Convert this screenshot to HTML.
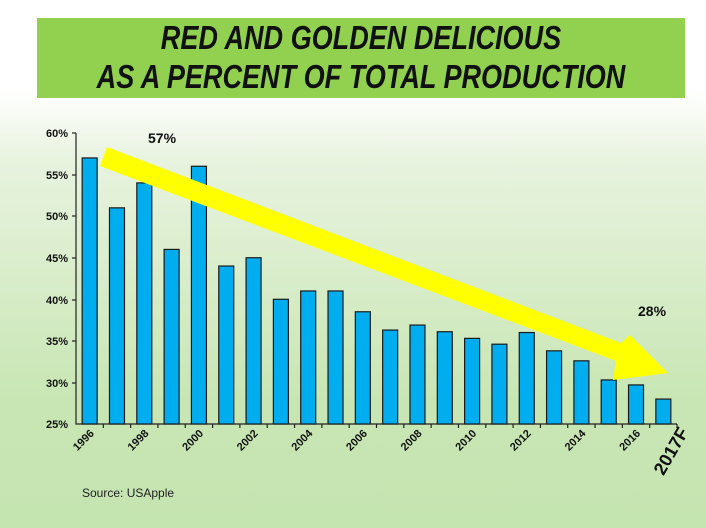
<!DOCTYPE html>
<html><head><style>
body{margin:0;width:706px;height:528px;overflow:hidden;background:linear-gradient(#ffffff 0px,#ffffff 90px,#e8f3df 160px,#c8e6b4 400px,#c4e4b0 528px);font-family:"Liberation Sans",sans-serif;}
.t{position:absolute;left:37px;top:18px;width:648px;height:80px;background:#92d050;}
.t div{position:absolute;left:0;width:648px;text-align:center;font-style:italic;font-weight:bold;font-size:33px;color:#111;transform:scaleX(0.82);white-space:nowrap}
</style></head><body>
<div class="t"><div style="top:1px">RED AND GOLDEN DELICIOUS</div><div style="top:40px">AS A PERCENT OF TOTAL PRODUCTION</div></div>
<svg width="706" height="528" style="position:absolute;left:0;top:0" font-family="Liberation Sans, sans-serif">
<g font-size="11" font-weight="bold" text-anchor="end" fill="#111">
<text x="68" y="137">60%</text><text x="68" y="179">55%</text><text x="68" y="220">50%</text><text x="68" y="262">45%</text><text x="68" y="304">40%</text><text x="68" y="345">35%</text><text x="68" y="387">30%</text><text x="68" y="428">25%</text>
</g>
<path d="M76 133V424H677" stroke="#222" fill="none" stroke-width="1.2"/>
<g stroke="#222" stroke-width="1.2">
<line x1="72" y1="133" x2="76" y2="133"/><line x1="72" y1="175" x2="76" y2="175"/><line x1="72" y1="216" x2="76" y2="216"/><line x1="72" y1="258" x2="76" y2="258"/><line x1="72" y1="300" x2="76" y2="300"/><line x1="72" y1="341" x2="76" y2="341"/><line x1="72" y1="383" x2="76" y2="383"/>
</g>
<g id="bars" fill="#00aeef" stroke="#1a1a1a" stroke-width="1.2"></g>
<g id="ticks" stroke="#222" stroke-width="1.2"></g>
<g id="lab" font-size="11" font-weight="bold" fill="#111"></g>
<text x="148" y="143" font-size="14" font-weight="bold" fill="#111">57%</text>
<text x="638" y="316" font-size="14" font-weight="bold" fill="#111">28%</text>
<polygon points="107,147 621,343 630,335 668,373 613,380 616,361 100,166" fill="#ffff00"/>
<text x="82" y="497" font-size="12" fill="#222">Source: USApple</text>
</svg>
<script>
var v=[57,51,54,46,56,44,45,40,41,41,38.5,36.3,36.9,36.1,35.3,34.6,36,33.8,32.6,30.3,29.7,28];
var s=(677-76)/22,b='',t='',l='';
for(var i=0;i<22;i++){var cx=76+s*(i+0.5),y=424-(v[i]-25)*8.314;
b+='<rect x="'+(cx-7.5)+'" y="'+y+'" width="15" height="'+(424-y)+'"/>';
t+='<line x1="'+(76+s*(i+1))+'" y1="424" x2="'+(76+s*(i+1))+'" y2="428"/>';
if(i%2==0)l+='<text transform="translate('+(cx+5)+',434) rotate(-45)" text-anchor="end">'+(1996+i)+'</text>';}
l+='<text transform="translate(689,432) rotate(-60)" text-anchor="end" font-size="18">2017F</text>';
document.getElementById('bars').innerHTML=b;document.getElementById('ticks').innerHTML=t;document.getElementById('lab').innerHTML=l;
</script>
</body></html>
